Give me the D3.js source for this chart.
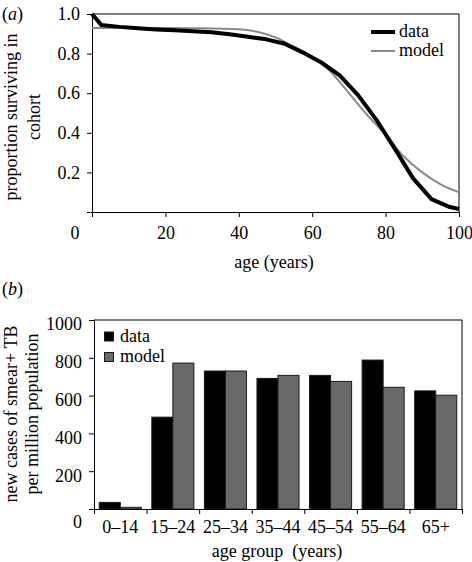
<!DOCTYPE html>
<html><head><meta charset="utf-8">
<script src="https://cdn.jsdelivr.net/npm/d3@7"></script>
<style>
html,body{margin:0;padding:0;background:#fff;}
svg{display:block;}
svg text{font-family:"Liberation Serif","Times New Roman",serif !important;fill:#000;}
</style></head>
<body><svg id="c" width="472" height="562"></svg>
<script>
// ---- Panel (a) data: survival curve ----
const dataAges   = [0, 2.5, 7.5, 12.5, 17.5, 22.5, 27.5, 32.5, 37.5, 42.5, 47.5, 52.5, 57.5, 62.5, 67.5, 72.5, 77.5, 82.5, 87.5, 92.5, 97.5, 100];
const dataSurv   = [1.0, 0.945, 0.935, 0.928, 0.922, 0.918, 0.913, 0.908, 0.898, 0.885, 0.872, 0.85, 0.805, 0.755, 0.69, 0.59, 0.465, 0.32, 0.17, 0.065, 0.025, 0.015];
const modelAges  = [0, 10, 20, 30, 40, 45, 50, 55, 60, 65, 70, 75, 80, 85, 90, 95, 100];
const modelSurv  = [0.929, 0.929, 0.929, 0.928, 0.923, 0.91, 0.882, 0.835, 0.785, 0.71, 0.6, 0.49, 0.39, 0.28, 0.2, 0.14, 0.10];
const ageTicks   = [0, 20, 40, 60, 80, 100];
const survTicks  = [0, 0.2, 0.4, 0.6, 0.8, 1.0];

// ---- Panel (b) data: incidence by age group ----
const groups     = ["0\u201314", "15\u201324", "25\u201334", "35\u201344", "45\u201354", "55\u201364", "65+"];
const casesData  = [35, 486, 730, 691, 707, 788, 625];
const casesModel = [9, 772, 730, 707, 675, 644, 602];
const caseTicks  = [0, 200, 400, 600, 800, 1000];
const seriesNames = ["data", "model"];

const svg = d3.select("#c");
const FS = 18;
const FF = "Liberation Serif";

function styleAxis(a) {
  a.attr("font-family", FF).attr("font-size", FS);
  a.selectAll("text").attr("font-size", FS).attr("font-family", FF);
  a.selectAll("path,line").attr("stroke", "#000");
}

// ================= Panel (a) =================
const xa = d3.scaleLinear().domain([0, 100]).range([92, 459]);
const ya = d3.scaleLinear().domain([0, 1]).range([212, 14]);

const ga = svg.append("g");
ga.append("path").attr("d", `M${xa(0)},${ya(1)}H${xa(100)}V${ya(0)}`)
  .attr("fill", "none").attr("stroke", "#000").attr("stroke-width", 1);

const axA_y = ga.append("g").attr("transform", `translate(${xa(0)},0)`)
  .call(d3.axisLeft(ya).tickValues(survTicks).tickSize(5).tickSizeOuter(0).tickPadding(7)
    .tickFormat(d => d === 0 ? "" : d3.format(".1f")(d)));
const axA_x = ga.append("g").attr("transform", `translate(0,${ya(0)})`)
  .call(d3.axisBottom(xa).tickValues(ageTicks).tickSize(5).tickSizeOuter(0).tickPadding(9)
    .tickFormat(d => d === 0 ? "" : String(d)));
styleAxis(axA_y); styleAxis(axA_x);
ga.append("text").attr("x", 75).attr("y", 233).attr("dy", "0.35em").attr("text-anchor", "middle")
  .attr("font-size", FS).text("0");

const modelPts = modelAges.map((a, i) => [a, modelSurv[i]]);
const dataPts = dataAges.map((a, i) => [a, dataSurv[i]]);
ga.append("path").datum(modelPts)
  .attr("d", d3.line().x(d => xa(d[0])).y(d => ya(d[1])).curve(d3.curveMonotoneX))
  .attr("fill", "none").attr("stroke", "#8a8a8a").attr("stroke-width", 2);
ga.append("path").datum(dataPts)
  .attr("d", d3.line().x(d => xa(d[0])).y(d => ya(d[1])))
  .attr("fill", "none").attr("stroke", "#000").attr("stroke-width", 4).attr("stroke-linejoin", "round");

// legend (a)
const legA = [{n: seriesNames[0], c: "#000", w: 4, y: 32}, {n: seriesNames[1], c: "#8a8a8a", w: 2, y: 51}];
legA.forEach(l => {
  ga.append("line").attr("x1", 371).attr("x2", 395).attr("y1", l.y).attr("y2", l.y)
    .attr("stroke", l.c).attr("stroke-width", l.w);
  ga.append("text").attr("x", 399).attr("y", l.y).attr("dy", "0.3em").attr("font-size", FS).text(l.n);
});

// titles (a)
ga.append("text").attr("transform", "translate(17,117) rotate(-90)").attr("text-anchor", "middle")
  .attr("font-size", FS).text("proportion surviving in");
ga.append("text").attr("transform", "translate(40,117) rotate(-90)").attr("text-anchor", "middle")
  .attr("font-size", FS).text("cohort");
ga.append("text").attr("x", 274).attr("y", 268).attr("text-anchor", "middle").attr("font-size", FS).text("age (years)");
const la = ga.append("text").attr("x", 2).attr("y", 20).attr("font-size", FS);
la.append("tspan").text("(");
la.append("tspan").attr("font-style", "italic").text("a");
la.append("tspan").text(")");

// ================= Panel (b) =================
const xb = d3.scaleBand().domain(groups).range([94, 462]).padding(0);
const xs = d3.scaleBand().domain(seriesNames).range([0, xb.bandwidth()]).paddingInner(0).paddingOuter(0.25);
const yb = d3.scaleLinear().domain([0, 1000]).range([509, 320]);
const xEdge = d3.scaleLinear().domain([0, groups.length]).range([94, 462]);

const gb = svg.append("g");
gb.append("path").attr("d", `M${xEdge(0)},${yb(1000)}H${xEdge(groups.length)}V${yb(0)}`)
  .attr("fill", "none").attr("stroke", "#000").attr("stroke-width", 1);

const colors = {data: "#000", model: "#696969"};
groups.forEach((g, i) => {
  const vals = {data: casesData[i], model: casesModel[i]};
  seriesNames.forEach(s => {
    gb.append("rect").attr("x", xb(g) + xs(s)).attr("width", xs.bandwidth())
      .attr("y", yb(vals[s])).attr("height", yb(0) - yb(vals[s]))
      .attr("fill", colors[s]).attr("stroke", "#1a1a1a").attr("stroke-width", 1);
  });
});

const axB_y = gb.append("g").attr("transform", `translate(${xEdge(0)},0)`)
  .call(d3.axisLeft(yb).tickValues(caseTicks).tickSize(5).tickSizeOuter(0).tickPadding(7).tickFormat(d3.format("d")));
axB_y.selectAll(".tick text").attr("dy", d => d === 0 ? "1em" : "0.55em");
const axB_ticks = gb.append("g").attr("transform", `translate(0,${yb(0)})`)
  .call(d3.axisBottom(xEdge).tickValues(d3.range(0, groups.length + 1)).tickSize(5).tickSizeOuter(0).tickFormat(""));
const axB_lab = gb.append("g").attr("transform", `translate(0,${yb(0)})`)
  .call(d3.axisBottom(xb).tickSize(0).tickSizeOuter(0).tickPadding(11));
axB_lab.select(".domain").remove();
styleAxis(axB_y); styleAxis(axB_ticks); styleAxis(axB_lab);

// legend (b)
const legB = [{n: seriesNames[0], y: 336.5}, {n: seriesNames[1], y: 357}];
legB.forEach(l => {
  gb.append("rect").attr("x", 104.5).attr("y", l.y - 4.5).attr("width", 9).attr("height", 9)
    .attr("fill", colors[l.n]).attr("stroke", "#1a1a1a").attr("stroke-width", 1);
  gb.append("text").attr("x", 120).attr("y", l.y).attr("dy", "0.3em").attr("font-size", FS).text(l.n);
});

// titles (b)
gb.append("text").attr("transform", "translate(17,414) rotate(-90)").attr("text-anchor", "middle")
  .attr("font-size", FS).text("new cases of smear+ TB");
gb.append("text").attr("transform", "translate(38,414) rotate(-90)").attr("text-anchor", "middle")
  .attr("font-size", FS).text("per million population");
gb.append("text").attr("x", 277).attr("y", 557).attr("text-anchor", "middle").attr("font-size", FS)
  .attr("xml:space", "preserve").style("white-space", "pre").text("age group  (years)");
const lb = gb.append("text").attr("x", 2).attr("y", 295).attr("font-size", FS);
lb.append("tspan").text("(");
lb.append("tspan").attr("font-style", "italic").text("b");
lb.append("tspan").text(")");
</script></body></html>
